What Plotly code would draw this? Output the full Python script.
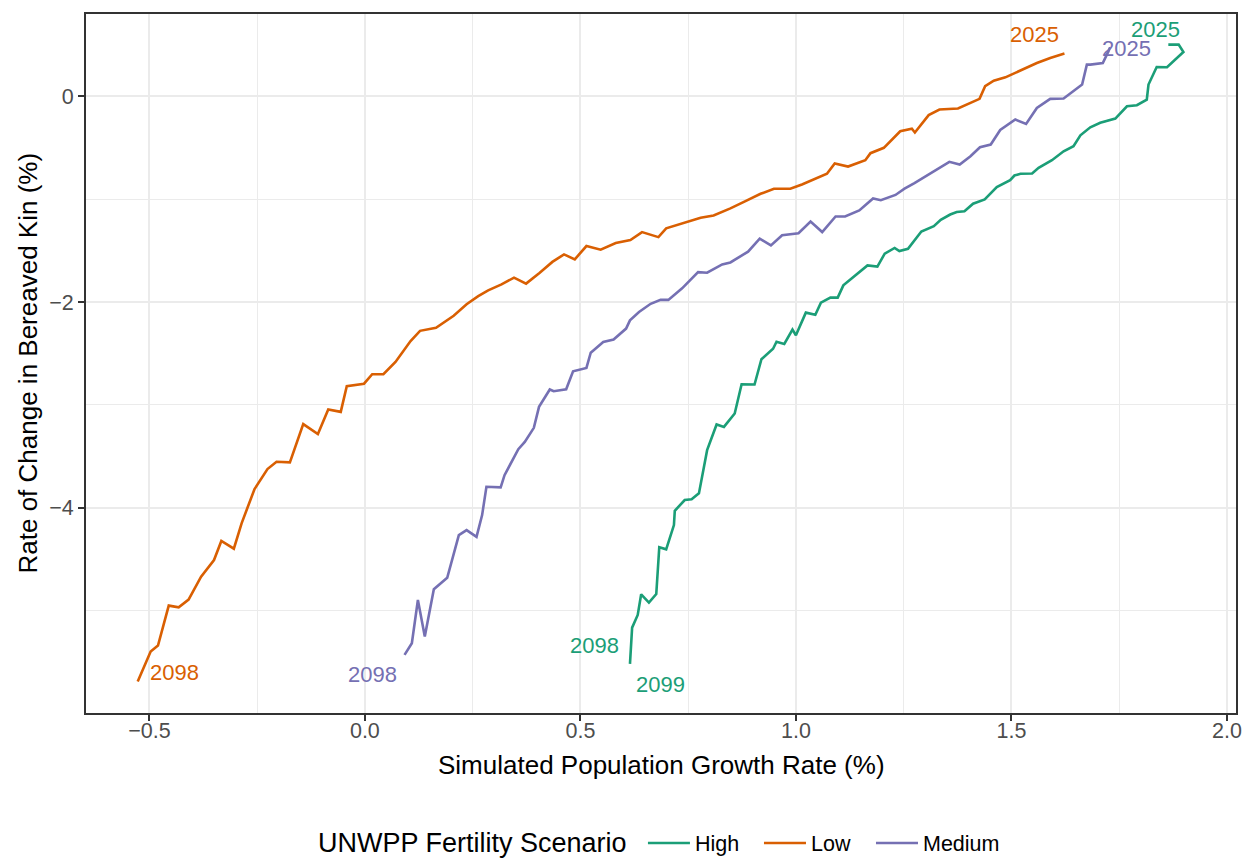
import plotly.graph_objects as go

FONT = "Liberation Sans, Arial, Helvetica, sans-serif"

scenarios = ["High", "Low", "Medium"]
scenario_colors = ["#1B9E77", "#D95F02", "#7570B3"]

# Simulated population growth rate (%) against the rate of change in bereaved
# kin (%), each path listed from the end of the century back to 2025.
high_growth = [0.615, 0.620, 0.633, 0.641, 0.659, 0.676, 0.683, 0.699, 0.717, 0.719,
               0.742, 0.758, 0.775, 0.794, 0.816, 0.833, 0.858, 0.874, 0.904, 0.920,
               0.947, 0.955, 0.973, 0.992, 1.000, 1.023, 1.045, 1.058, 1.080, 1.097,
               1.110, 1.136, 1.166, 1.189, 1.206, 1.229, 1.240, 1.260, 1.291, 1.320,
               1.336, 1.358, 1.373, 1.391, 1.411, 1.438, 1.466, 1.497, 1.507, 1.521,
               1.548, 1.563, 1.594, 1.621, 1.644, 1.660, 1.683, 1.706, 1.741, 1.768,
               1.791, 1.814, 1.818, 1.837, 1.861, 1.899, 1.888, 1.864]
high_change = [-5.518, -5.165, -5.042, -4.841, -4.922, -4.838, -4.384, -4.404, -4.168, -4.029,
               -3.925, -3.918, -3.860, -3.440, -3.190, -3.214, -3.083, -2.799, -2.802, -2.556,
               -2.454, -2.386, -2.408, -2.268, -2.323, -2.103, -2.124, -2.006, -1.957, -1.957,
               -1.838, -1.750, -1.644, -1.656, -1.530, -1.474, -1.505, -1.482, -1.314, -1.262,
               -1.200, -1.149, -1.124, -1.117, -1.044, -1.003, -0.883, -0.816, -0.770, -0.753,
               -0.750, -0.695, -0.621, -0.534, -0.485, -0.379, -0.301, -0.258, -0.217, -0.097,
               -0.087, -0.032, 0.114, 0.285, 0.282, 0.431, 0.502, 0.502]

low_growth = [-0.527, -0.497, -0.480, -0.455, -0.432, -0.409, -0.380, -0.350, -0.333, -0.304,
              -0.286, -0.256, -0.226, -0.205, -0.174, -0.143, -0.109, -0.085, -0.056, -0.042,
              -0.002, 0.017, 0.043, 0.071, 0.106, 0.128, 0.165, 0.206, 0.236, 0.263,
              0.286, 0.317, 0.346, 0.374, 0.405, 0.435, 0.462, 0.487, 0.514, 0.547,
              0.582, 0.616, 0.643, 0.681, 0.699, 0.744, 0.779, 0.809, 0.848, 0.883,
              0.918, 0.949, 0.987, 1.014, 1.045, 1.072, 1.090, 1.121, 1.161, 1.173,
              1.204, 1.242, 1.269, 1.276, 1.308, 1.333, 1.376, 1.426, 1.439, 1.459,
              1.486, 1.521, 1.559, 1.590, 1.623]
low_change = [-5.689, -5.398, -5.340, -4.951, -4.967, -4.893, -4.670, -4.508, -4.323, -4.398,
              -4.151, -3.818, -3.624, -3.553, -3.559, -3.187, -3.284, -3.045, -3.068, -2.818,
              -2.794, -2.702, -2.702, -2.583, -2.379, -2.280, -2.250, -2.134, -2.022, -1.942,
              -1.886, -1.828, -1.763, -1.821, -1.717, -1.610, -1.537, -1.585, -1.456, -1.491,
              -1.427, -1.398, -1.320, -1.369, -1.284, -1.229, -1.181, -1.158, -1.090, -1.019,
              -0.948, -0.899, -0.899, -0.857, -0.799, -0.753, -0.653, -0.683, -0.621, -0.553,
              -0.501, -0.340, -0.316, -0.352, -0.183, -0.129, -0.119, -0.025, 0.099, 0.152,
              0.184, 0.250, 0.324, 0.373, 0.415]

medium_growth = [0.092, 0.109, 0.123, 0.139, 0.160, 0.191, 0.218, 0.236, 0.259, 0.272,
                 0.282, 0.315, 0.324, 0.356, 0.371, 0.392, 0.404, 0.429, 0.438, 0.467,
                 0.483, 0.514, 0.524, 0.553, 0.577, 0.606, 0.615, 0.636, 0.663, 0.686,
                 0.704, 0.736, 0.773, 0.794, 0.829, 0.848, 0.889, 0.916, 0.942, 0.968,
                 1.006, 1.034, 1.061, 1.092, 1.114, 1.147, 1.179, 1.197, 1.231, 1.252,
                 1.275, 1.304, 1.333, 1.356, 1.380, 1.405, 1.427, 1.452, 1.474, 1.509,
                 1.534, 1.559, 1.590, 1.621, 1.664, 1.675, 1.683, 1.712, 1.725, 1.729]
medium_change = [-5.430, -5.317, -4.896, -5.252, -4.792, -4.680, -4.265, -4.217, -4.282, -4.071,
                 -3.796, -3.802, -3.683, -3.430, -3.359, -3.223, -3.019, -2.850, -2.867, -2.848,
                 -2.673, -2.641, -2.493, -2.388, -2.365, -2.258, -2.178, -2.097, -2.017, -1.979,
                 -1.979, -1.867, -1.709, -1.715, -1.634, -1.615, -1.510, -1.384, -1.450, -1.350,
                 -1.331, -1.217, -1.320, -1.168, -1.168, -1.110, -0.993, -1.010, -0.959, -0.898,
                 -0.843, -0.767, -0.689, -0.637, -0.663, -0.583, -0.495, -0.469, -0.328, -0.226,
                 -0.268, -0.113, -0.025, -0.022, 0.114, 0.308, 0.308, 0.324, 0.437, 0.476]

# Year labels at the ends of each path
label_scenario = ["Low", "Low", "Medium", "Medium", "High", "High", "High"]
label_text = ["2098", "2025", "2098", "2025", "2098", "2099", "2025"]
label_x = [-0.441, 1.553, 0.018, 1.766, 0.533, 0.686, 1.834]
label_y = [-5.605, 0.597, -5.625, 0.465, -5.342, -5.714, 0.647]

series = {
    "High": (high_growth, high_change),
    "Low": (low_growth, low_change),
    "Medium": (medium_growth, medium_change),
}
color_of = dict(zip(scenarios, scenario_colors))

# One single-entry legend per scenario, so each key can be spaced freely
legend_ids = ["legend", "legend2", "legend3"]
legend_x = [0.4843, 0.5852, 0.6826]
LEGEND_Y = -0.186

fig = go.Figure()
for name, lid in zip(scenarios, legend_ids):
    gx, gy = series[name]
    fig.add_trace(go.Scatter(
        x=gx, y=gy, mode="lines", name=name, legend=lid,
        line=dict(color=color_of[name], width=2.6),
    ))

for sc, txt, lx, ly in zip(label_scenario, label_text, label_x, label_y):
    fig.add_annotation(
        x=lx, y=ly, xref="x", yref="y", text=txt, showarrow=False,
        xanchor="center", yanchor="middle",
        font=dict(family=FONT, size=22, color=color_of[sc]),
    )

# Axis titles
fig.add_annotation(
    x=0.5, y=0, xref="paper", yref="paper", yshift=-52,
    text="Simulated Population Growth Rate (%)", showarrow=False,
    xanchor="center", yanchor="middle",
    font=dict(family=FONT, size=26, color="#000000"),
)
fig.add_annotation(
    x=0, y=0.5, xref="paper", yref="paper", xshift=-59,
    text="Rate of Change in Bereaved Kin (%)", showarrow=False, textangle=-90,
    xanchor="center", yanchor="middle",
    font=dict(family=FONT, size=26, color="#000000"),
)

# Legend heading, set to the left of the legend entries
fig.add_annotation(
    x=0.4722, y=LEGEND_Y, xref="paper", yref="paper",
    text="UNWPP Fertility Scenario", showarrow=False,
    xanchor="right", yanchor="middle",
    font=dict(family=FONT, size=27, color="#000000"),
)

axis_common = dict(
    showline=True, mirror=True, linecolor="#333333", linewidth=2,
    ticks="outside", ticklen=6, tickwidth=2, tickcolor="#333333",
    tickfont=dict(family=FONT, size=21.5, color="#4D4D4D"),
    showgrid=True, gridcolor="#EBEBEB", gridwidth=2.2, zeroline=False,
)

legend_style = dict(
    orientation="h", xanchor="left", y=LEGEND_Y, yanchor="middle",
    itemwidth=42,
    font=dict(family=FONT, size=21.5, color="#000000"),
    bgcolor="rgba(0,0,0,0)",
)

fig.update_layout(
    width=1252, height=859,
    margin=dict(l=86, r=16, t=14, b=146, autoexpand=False),
    paper_bgcolor="white", plot_bgcolor="white",
    font=dict(family=FONT, color="#000000"),
    xaxis=dict(range=[-0.647, 2.021], tickmode="linear", tick0=0, dtick=0.5,
               tickformat=".1f", ticklabelstandoff=-9,
               minor=dict(dtick=0.25, showgrid=True, gridcolor="#EBEBEB", gridwidth=1.2),
               **axis_common),
    yaxis=dict(range=[-5.995, 0.800], tickmode="linear", tick0=0, dtick=2,
               minor=dict(dtick=1, showgrid=True, gridcolor="#EBEBEB", gridwidth=1.2),
               **axis_common),
    showlegend=True,
    legend=dict(x=legend_x[0], **legend_style),
    legend2=dict(x=legend_x[1], **legend_style),
    legend3=dict(x=legend_x[2], **legend_style),
)

fig.write_html("out.html")
